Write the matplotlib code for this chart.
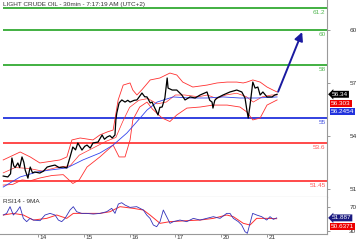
import matplotlib.pyplot as plt
import matplotlib.transforms as mtransforms

plt.rcParams['font.family'] = ['Liberation Sans', 'DejaVu Sans']

# x positions are trading-day index: 0 = 14th, 1 = 15th ... 5 = 21st
day_labels = ['14', '15', '16', '17', '20', '21']

price_x = [-0.76, -0.66, -0.60, -0.57, -0.53, -0.50, -0.44, -0.40, -0.35, -0.31, -0.28, -0.22, -0.19, -0.17,
           -0.12, -0.07, 0.04, 0.12, 0.20, 0.30, 0.37, 0.46, 0.55, 0.63, 0.70, 0.76, 0.82, 0.87, 0.96, 1.02,
           1.07, 1.14, 1.20, 1.31, 1.40, 1.45, 1.51, 1.57, 1.62, 1.68, 1.70, 1.72, 1.77, 1.83, 1.90, 1.96,
           2.01, 2.10, 2.16, 2.27, 2.33, 2.38, 2.45, 2.49, 2.55, 2.58, 2.62, 2.66, 2.71, 2.77, 2.82, 2.84,
           2.93, 3.03, 3.14, 3.21, 3.32, 3.43, 3.54, 3.69, 3.75, 3.80, 3.82, 3.86, 3.91, 4.04, 4.19, 4.34,
           4.45, 4.52, 4.56, 4.59, 4.63, 4.69, 4.74, 4.80, 4.85, 4.91, 5.00, 5.11, 5.17, 5.22]
price_y = [51.72, 51.67, 51.85, 52.74, 52.30, 52.20, 52.46, 52.20, 52.80, 52.50, 52.06, 51.60, 52.00, 52.23,
           51.90, 51.95, 51.89, 52.00, 52.23, 52.30, 52.34, 52.20, 52.23, 52.18, 52.80, 53.36, 53.20, 53.59,
           53.19, 53.40, 53.47, 53.30, 53.59, 53.64, 54.04, 53.80, 53.93, 54.00, 53.87, 54.04, 54.90, 55.28,
           55.85, 56.02, 55.90, 56.00, 55.90, 56.00, 56.02, 56.41, 56.20, 56.19, 55.85, 55.90, 55.56, 55.40,
           55.17, 55.60, 55.62, 56.13, 57.26, 56.69, 56.58, 56.58, 56.30, 56.02, 56.19, 56.13, 56.30, 56.47,
           56.00, 55.90, 55.56, 56.00, 56.13, 56.30, 56.47, 56.58, 56.47, 56.13, 55.45, 55.00, 55.73, 57.03,
           56.69, 56.75, 56.30, 56.47, 56.19, 56.19, 56.30, 56.34]

bb_up_x = [-0.76, -0.39, -0.17, 0.04, 0.48, 0.63, 0.74, 0.92, 1.20, 1.35, 1.51, 1.64, 1.75, 1.86, 2.01,
           2.07, 2.16, 2.27, 2.45, 2.66, 2.88, 3.03, 3.16, 3.38, 3.69, 3.91, 4.13, 4.34, 4.48, 4.56, 4.69,
           4.85, 5.00, 5.13, 5.22]
bb_up_y = [52.63, 53.08, 52.80, 52.46, 52.63, 52.80, 53.76, 53.87, 53.76, 54.04, 54.21, 54.32, 56.02, 56.86,
           56.98, 56.58, 56.30, 56.60, 57.15, 57.26, 57.54, 57.43, 57.03, 56.75, 56.86, 56.98, 57.03, 57.03,
           56.98, 57.03, 57.15, 57.03, 56.75, 56.58, 56.47]
bb_lo_x = [-0.76, -0.55, -0.35, -0.17, 0.04, 0.30, 0.55, 0.76, 0.90, 1.07, 1.35, 1.64, 1.77, 1.90, 2.01,
           2.07, 2.22, 2.38, 2.50, 2.71, 2.88, 3.03, 3.25, 3.54, 3.82, 4.13, 4.41, 4.56, 4.69, 4.85, 5.00, 5.22]
bb_lo_y = [51.21, 51.25, 51.50, 51.45, 51.61, 51.75, 51.80, 51.30, 51.50, 52.23, 52.80, 53.47, 52.80, 52.80,
           53.76, 54.89, 55.62, 55.90, 55.50, 55.00, 54.80, 55.17, 55.56, 55.62, 55.73, 55.73, 55.62, 55.34,
           54.89, 55.00, 55.73, 56.02]
bb_mid_x = [-0.76, -0.50, -0.20, 0.10, 0.40, 0.70, 0.90, 1.20, 1.50, 1.70, 1.85, 2.00, 2.20, 2.40, 2.60,
            2.80, 3.00, 3.20, 3.50, 3.70, 3.90, 4.10, 4.34, 4.55, 4.70, 4.90, 5.10, 5.22]
bb_mid_y = [51.90, 52.20, 52.15, 52.00, 52.20, 52.30, 52.90, 53.30, 53.70, 53.90, 54.80, 55.60, 56.00, 56.10,
            55.80, 55.90, 56.30, 56.30, 56.20, 56.30, 56.10, 56.30, 56.40, 56.20, 55.90, 56.20, 56.30, 56.30]
ma_x = [-0.76, -0.39, -0.02, 0.26, 0.63, 0.98, 1.35, 1.64, 1.94, 2.23, 2.38, 2.60, 2.95, 3.32, 3.69,
        4.04, 4.41, 4.78, 5.22]
ma_y = [51.10, 51.67, 51.95, 52.06, 52.18, 52.63, 53.02, 53.47, 54.15, 55.00, 55.45, 55.90, 56.19, 56.13,
        56.13, 56.19, 56.13, 56.13, 56.19]

last_price, last_mid, last_ma = 56.34, 56.303, 56.2454
target_x, target_y = 5.79, 60.0

levels = [61.2, 60, 58, 55, 53.6, 51.45]
level_labels = ['61.2', '60', '58', '55', '53.6', '51.45']
level_colors = ['#33aa33', '#33aa33', '#33aa33', '#2233dd', '#ff3b3b', '#ff3b3b']

rsi_x = [-0.757, -0.684, -0.611, -0.539, -0.466, -0.393, -0.320, -0.247, -0.175, -0.102, 0.044, 0.153,
         0.262, 0.371, 0.444, 0.517, 0.590, 0.699, 0.771, 0.844, 0.953, 1.062, 1.208, 1.354, 1.499, 1.609,
         1.681, 1.754, 1.827, 1.900, 2.009, 2.155, 2.300, 2.373, 2.445, 2.518, 2.591, 2.664, 2.736, 2.809,
         2.882, 2.955, 3.100, 3.246, 3.392, 3.537, 3.683, 3.828, 3.974, 4.120, 4.192, 4.265, 4.374, 4.447,
         4.520, 4.571, 4.629, 4.687, 4.774, 4.884, 4.993, 5.066, 5.138, 5.211]
rsi_y = [56.7, 59.4, 70.6, 56.7, 62.2, 70.6, 51.1, 45.6, 51.1, 48.3, 47.2, 56.7, 59.4, 56.7, 48.3, 45.6,
         51.1, 65.0, 70.6, 62.2, 59.4, 59.4, 58.3, 59.4, 62.2, 67.8, 59.4, 75.0, 77.2, 73.3, 69.4, 70.6,
         65.0, 56.7, 51.1, 40.0, 37.2, 45.6, 65.0, 53.9, 42.8, 45.6, 48.3, 45.6, 51.1, 48.3, 51.1, 53.9,
         51.1, 59.4, 59.4, 51.1, 45.6, 40.0, 28.9, 26.1, 42.8, 59.4, 56.7, 53.9, 48.3, 53.9, 49.4, 51.9]
rsi_ma_x = [-0.757, -0.539, -0.320, -0.102, 0.189, 0.408, 0.626, 0.771, 1.062, 1.354, 1.572, 1.790, 2.082,
            2.300, 2.445, 2.664, 2.882, 3.246, 3.537, 3.828, 4.120, 4.265, 4.483, 4.629, 4.774, 4.993, 5.211]
rsi_ma_y = [56.7, 59.4, 56.7, 48.3, 51.1, 56.7, 51.1, 59.4, 59.4, 59.4, 62.2, 70.6, 67.8, 65.0, 56.7,
            42.8, 45.6, 47.2, 48.3, 51.1, 56.7, 53.9, 42.8, 40.0, 51.1, 51.1, 50.6]
last_rsi, last_rsi_ma = 51.887, 50.6371

fig = plt.figure(figsize=(3.58, 2.41), dpi=100)
ax = fig.add_axes([0, 0.1826, 0.9134, 0.8174])
ax2 = fig.add_axes([0, 0.029, 0.9134, 0.1535], sharex=ax)

x0, x1 = -0.83, 6.31
ax.set_xlim(x0, x1)
ax.set_ylim(50.537, 61.667)
ax2.set_ylim(25, 86.7)

for a in (ax, ax2):
    for s in ['left', 'top']:
        a.spines[s].set_visible(False)
    a.spines['right'].set_color('#999999')
    a.spines['bottom'].set_color('#999999')
    a.spines['right'].set_linewidth(0.8)
    a.spines['bottom'].set_linewidth(0.8)
    a.yaxis.tick_right()
    a.tick_params(axis='y', length=2, width=0.6, color='#888888', pad=14,
                  labelsize=4.6, labelcolor='#333333')

# support / resistance levels
for lv, lab, c in zip(levels, level_labels, level_colors):
    ax.hlines(lv, -0.76, x1, colors=c, lw=1.3)
    ax.text(x1 - 0.03, lv - 0.12, lab, color=c, fontsize=4.6, ha='right', va='top', alpha=0.85)

ax.plot(bb_up_x, bb_up_y, color='#ff3030', lw=0.6)
ax.plot(bb_lo_x, bb_lo_y, color='#ff3030', lw=0.6)
ax.plot(bb_mid_x, bb_mid_y, color='#ff3030', lw=0.5)
ax.plot(ma_x, ma_y, color='#3344ee', lw=0.6)
ax.plot(price_x, price_y, color='black', lw=0.9)

ax.annotate('', xy=(target_x, target_y), xytext=(price_x[-1], price_y[-1]),
            arrowprops=dict(arrowstyle='-|>,head_length=0.5,head_width=0.25', color='#1a1aa0', lw=1.4))

ax.set_yticks([51, 54, 57, 60])
ax.tick_params(axis='x', bottom=False, labelbottom=False)

ax.text(0.008, 0.99, 'LIGHT CRUDE OIL - 30min - 7:17:19 AM (UTC+2)', transform=ax.transAxes,
        fontsize=4.6, color='#333333', ha='left', va='top')

def side_box(a, val, txt, fc, dy, arrow=False):
    style = 'larrow,pad=0.15' if arrow else 'square,pad=0.15'
    a.annotate(txt, xy=(1, val), xycoords=('axes fraction', 'data'), xytext=(3.5 if arrow else 3, dy),
               textcoords='offset points', ha='left', va='center', fontsize=4.6, color='white',
               bbox=dict(boxstyle=style, fc=fc, ec='none'), annotation_clip=False)

side_box(ax, last_price, '56.34', 'black', 0, arrow=True)
side_box(ax, last_price, '56.303', '#ee0000', -6.5)
side_box(ax, last_price, '56.2454', '#2233dd', -12.5)

# RSI panel
ax2.plot(rsi_ma_x, rsi_ma_y, color='#ff3030', lw=0.7)
ax2.plot(rsi_x, rsi_y, color='#3333bb', lw=0.6)
ax2.set_yticks([30, 70])
ax2.text(0.008, 0.95, 'RSI14 - 9MA', transform=ax2.transAxes, fontsize=4.6, color='#333333',
         ha='left', va='top')
side_box(ax2, last_rsi, '51.887', '#1a1a80', 0, arrow=True)
side_box(ax2, last_rsi, '50.6371', '#ee0000', -6.5)

ax2.set_xticks(range(len(day_labels)))
ax2.set_xticklabels(day_labels)
ax2.tick_params(axis='x', length=2.5, width=0.6, color='#888888', pad=0, labelsize=4.6,
                labelcolor='#333333')
offset = mtransforms.ScaledTranslation(1.5 / 100, 2.0 / 100, fig.dpi_scale_trans)
for lab in ax2.get_xticklabels():
    lab.set_horizontalalignment('left')
    lab.set_transform(lab.get_transform() + offset)

fig.savefig('out.png', dpi=100)
